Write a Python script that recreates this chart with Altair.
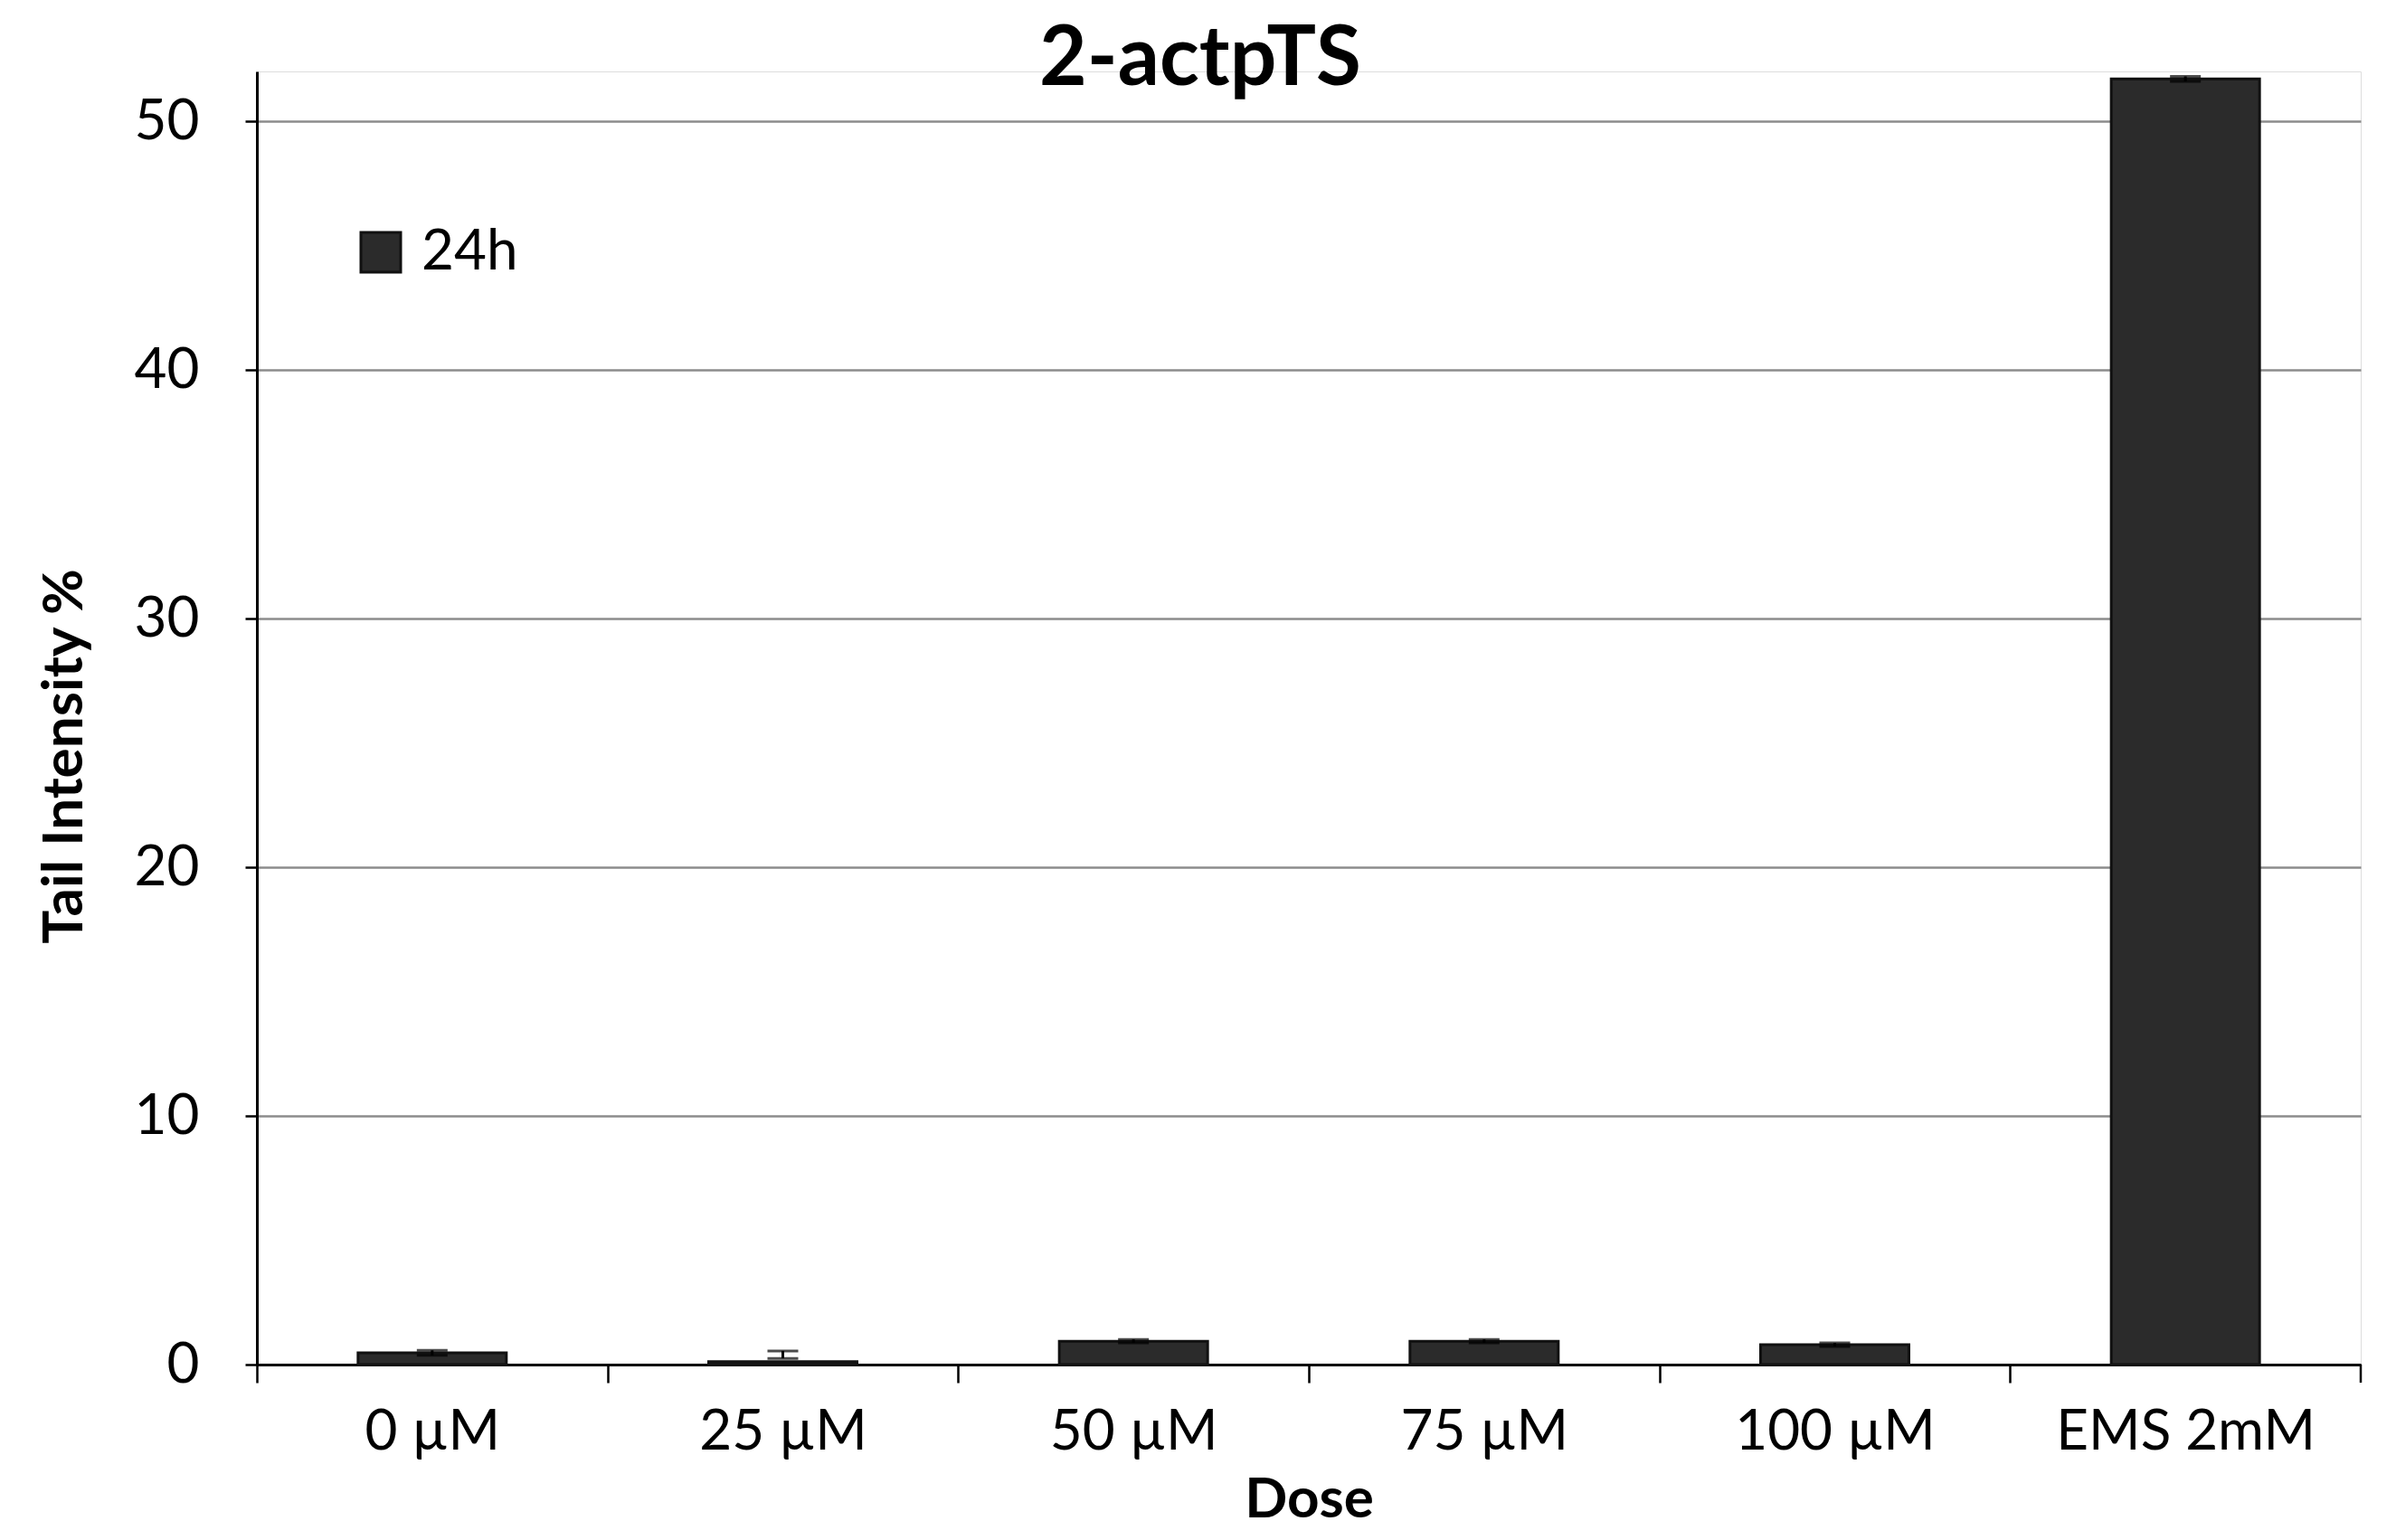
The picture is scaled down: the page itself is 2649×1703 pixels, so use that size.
import altair as alt
import pandas as pd

# ---- data ----
doses = ["0 µM", "25 µM", "50 µM", "75 µM", "100 µM", "EMS 2mM"]
values = [0.47, 0.12, 0.94, 0.94, 0.80, 51.7]
err_low = [0.37, 0.25, 0.87, 0.87, 0.73, 51.6]
err_high = [0.57, 0.55, 1.01, 1.01, 0.87, 51.8]
series = ["24h"] * 6
y_ticks = [0, 10, 20, 30, 40, 50]

df = pd.DataFrame({
    "dose": doses,
    "value": values,
    "lo": err_low,
    "hi": err_high,
    "series": series,
})

FONT = "Lato"
BAR = "#2b2b2b"
W, H = 2326, 1430
STEP = W / len(doses)

x_enc = alt.X(
    "dose:N",
    sort=doses,
    title="Dose",
    scale=alt.Scale(paddingInner=0.577, paddingOuter=0.2885),
    axis=alt.Axis(
        labelAngle=0, labelFont=FONT, labelFontSize=62, labelColor="black",
        labelPadding=24, labelLimit=0, tickOffset=-STEP / 2,
        labelOffset=STEP / 2, tickSize=20,
        tickColor="black", tickWidth=2.5, domainColor="black", domainWidth=3,
        grid=False, titleFont=FONT, titleFontSize=62, titleFontWeight="bold",
        titleColor="black", titleY=168, titleBaseline="alphabetic",
    ),
)

y_enc = alt.Y(
    "value:Q",
    scale=alt.Scale(domain=[0, 52], nice=False),
    axis=alt.Axis(
        values=y_ticks, title="Tail Intensity %", labelFont=FONT,
        labelFontSize=62, labelColor="black", labelPadding=51, tickSize=13,
        tickColor="black", tickWidth=2.5, domainColor="black", domainWidth=3,
        gridColor="#8c8c8c", gridWidth=2.5, titleFont=FONT,
        titleFontSize=62, titleFontWeight="bold", titleColor="black",
        titleX=-194, titleY=757, titleBaseline="alphabetic",
    ),
)

bars = alt.Chart(df).mark_bar(stroke="#111111", strokeWidth=3).encode(
    x=x_enc,
    y=y_enc,
    color=alt.Color(
        "series:N",
        scale=alt.Scale(domain=["24h"], range=[BAR]),
        legend=alt.Legend(
            title=None, orient="none", legendX=106, legendY=169,
            symbolType="square", symbolSize=1936, symbolStrokeColor="#111111",
            symbolStrokeWidth=3, labelFont=FONT, labelFontSize=62,
            labelColor="black", labelOffset=14, padding=0,
        ),
    ),
)

err_rule = alt.Chart(df).mark_rule(color="black", strokeWidth=3).encode(
    x=alt.X("dose:N", sort=doses),
    y=alt.Y("lo:Q"),
    y2="hi:Q",
)
cap_lo = alt.Chart(df).mark_tick(color="black", thickness=3, size=34).encode(
    x=alt.X("dose:N", sort=doses),
    y=alt.Y("lo:Q"),
)
cap_hi = alt.Chart(df).mark_tick(color="black", thickness=3, size=34).encode(
    x=alt.X("dose:N", sort=doses),
    y=alt.Y("hi:Q"),
)
# closing category tick at the right end of the x axis
end_tick = alt.Chart(df).transform_filter(
    alt.datum.dose == doses[-1]
).mark_rule(color="black", strokeWidth=2.5, xOffset=STEP / 2).encode(
    x=alt.X("dose:N", sort=doses),
    y=alt.value(H),
    y2=alt.value(H + 20),
)

chart = alt.layer(bars, err_rule, cap_lo, cap_hi, end_tick).properties(
    width=W,
    height=H,
    title=alt.TitleParams(
        "2-actpTS", font=FONT, fontSize=91, fontWeight="bold", color="black",
        anchor="middle", frame="group", baseline="alphabetic", offset=-106,
        dx=-120,
    ),
    autosize=alt.AutoSizeParams(type="none"),
    padding={"left": 276, "top": 71, "right": 31, "bottom": 180},
).configure_view(stroke=None).configure(background="white")

chart.save("out.html", embed_options={"renderer": "svg", "actions": False})
